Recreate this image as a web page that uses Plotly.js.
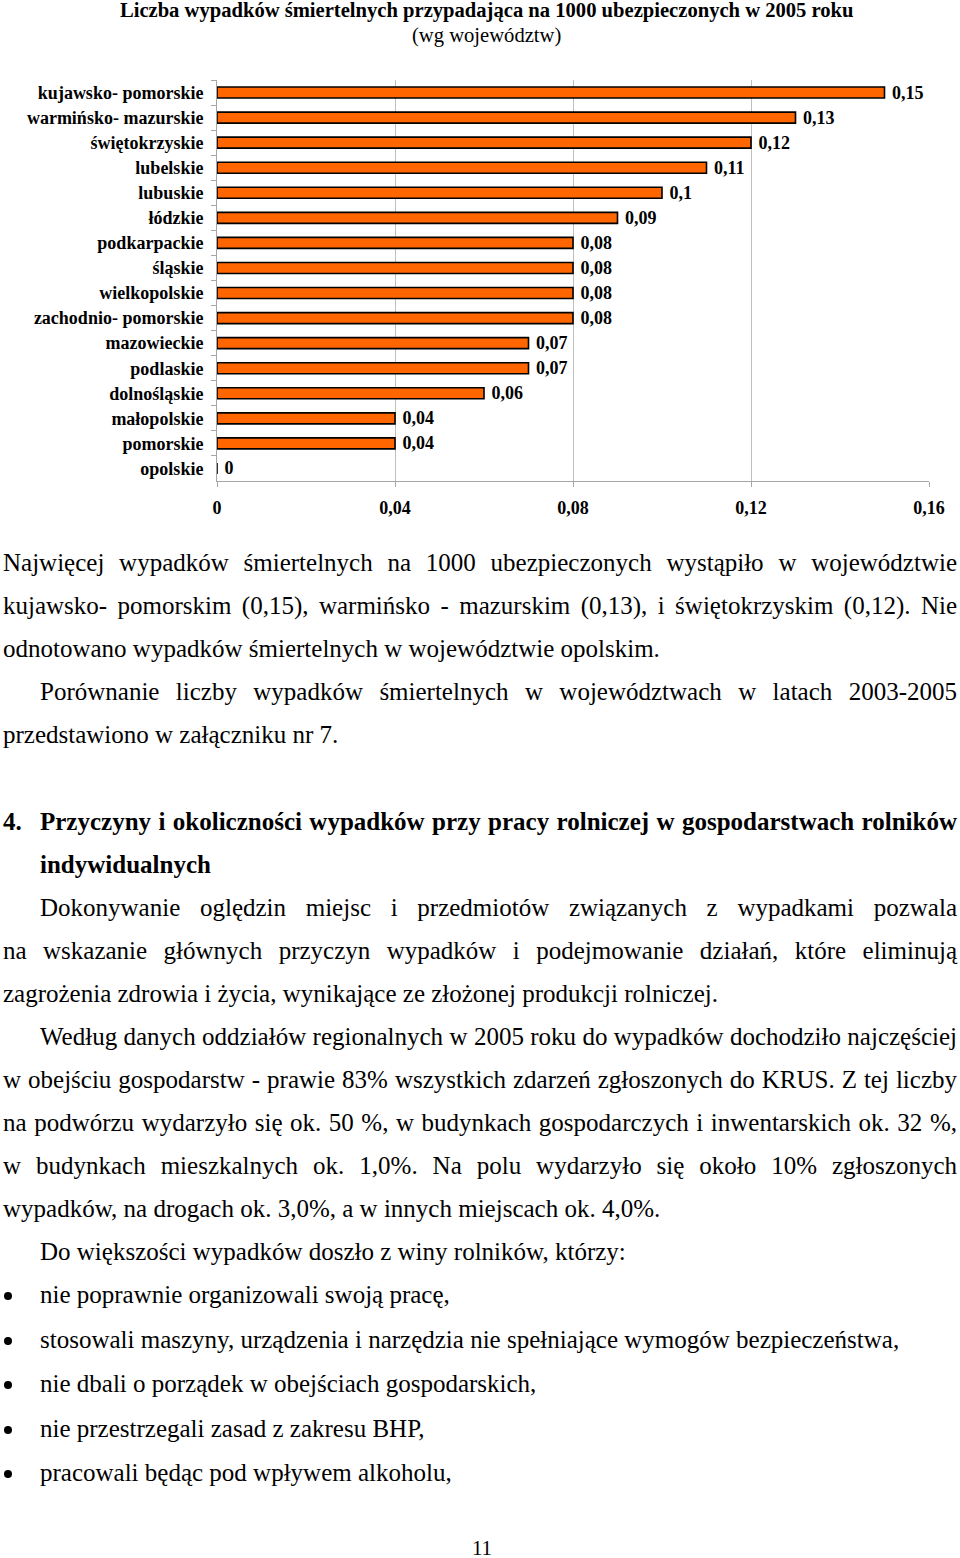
<!DOCTYPE html>
<html>
<head>
<meta charset="utf-8">
<script src="https://cdn.plot.ly/plotly-3.0.1.min.js"></script>
<style>
  body { margin: 0; background: #fff; width: 960px; height: 1558px; position: relative; overflow: hidden; }
  #plot { position: absolute; left: 0; top: 0; width: 960px; height: 540px; }
  #text { position: absolute; left: 3px; top: 541px; width: 954px;
          font-family: "Liberation Serif", "Times New Roman", serif; font-size: 25px; color: #000; }
  #text div { line-height: 43px; height: 43px; white-space: nowrap; }
  #text .j { text-align: justify; text-align-last: justify; }
  #text .ind { padding-left: 37px; }
  #text .h { font-weight: bold; }
  #text .bl { height: 44.5px; line-height: 44.5px; padding-left: 37px; position: relative; }
  #text .bl::before { content: ""; position: absolute; left: 1px; top: 19px; width: 8px; height: 8px;
                      border-radius: 50%; background: #000; }
  #page { position: absolute; left: 0; width: 960px; top: 1539px; height: 19px; line-height: 19px;
          text-align: center; font-family: "Liberation Serif", serif; font-size: 21px; padding-left: 2px; }
</style>
</head>
<body>
<div id="plot"></div>
<div id="text">
  <div class="j">Najwięcej wypadków śmiertelnych na 1000 ubezpieczonych wystąpiło w województwie</div>
  <div class="j">kujawsko- pomorskim (0,15), warmińsko - mazurskim (0,13), i świętokrzyskim (0,12). Nie</div>
  <div>odnotowano wypadków śmiertelnych w województwie opolskim.</div>
  <div class="j ind">Porównanie liczby wypadków śmiertelnych w województwach w latach 2003-2005</div>
  <div>przedstawiono w załączniku nr 7.</div>
  <div style="height:44px"></div>
  <div class="h j"><span style="display:inline-block;width:37px;text-align:left">4.</span>Przyczyny i okoliczności wypadków przy pracy rolniczej w gospodarstwach rolników</div>
  <div class="h ind">indywidualnych</div>
  <div class="j ind">Dokonywanie oględzin miejsc i przedmiotów związanych z wypadkami pozwala</div>
  <div class="j">na wskazanie głównych przyczyn wypadków i podejmowanie działań, które eliminują</div>
  <div>zagrożenia zdrowia i życia, wynikające ze złożonej produkcji rolniczej.</div>
  <div class="j ind">Według danych oddziałów regionalnych w 2005 roku do wypadków dochodziło najczęściej</div>
  <div class="j">w obejściu gospodarstw - prawie 83% wszystkich zdarzeń zgłoszonych do KRUS. Z tej liczby</div>
  <div class="j">na podwórzu wydarzyło się ok. 50 %, w budynkach gospodarczych i inwentarskich ok. 32 %,</div>
  <div class="j">w budynkach mieszkalnych ok. 1,0%. Na polu wydarzyło się około 10% zgłoszonych</div>
  <div>wypadków, na drogach ok. 3,0%, a w innych miejscach ok. 4,0%.</div>
  <div class="ind">Do większości wypadków doszło z winy rolników, którzy:</div>
  <div class="bl">nie poprawnie organizowali swoją pracę,</div>
  <div class="bl">stosowali maszyny, urządzenia i narzędzia nie spełniające wymogów bezpieczeństwa,</div>
  <div class="bl">nie dbali o porządek w obejściach gospodarskich,</div>
  <div class="bl">nie przestrzegali zasad z zakresu BHP,</div>
  <div class="bl">pracowali będąc pod wpływem alkoholu,</div>
</div>
<div id="page">11</div>
<script>
// województwa, od góry do dołu
var regions = ['kujawsko- pomorskie', 'warmińsko- mazurskie', 'świętokrzyskie', 'lubelskie',
  'lubuskie', 'łódzkie', 'podkarpackie', 'śląskie', 'wielkopolskie', 'zachodnio- pomorskie',
  'mazowieckie', 'podlaskie', 'dolnośląskie', 'małopolskie', 'pomorskie', 'opolskie'];
var rates = [0.15, 0.13, 0.12, 0.11, 0.10, 0.09, 0.08, 0.08, 0.08, 0.08, 0.07, 0.07, 0.06, 0.04, 0.04, 0];
var tickValues = [0, 0.04, 0.08, 0.12, 0.16];
var tickLabels = ['0', '0,04', '0,08', '0,12', '0,16'];

// etykiety z przecinkiem dziesiętnym (nbsp jako odstęp od słupka)
var labels = rates.map(function (v) { return '\u00a0' + String(v).replace('.', ','); });

var serif = 'Liberation Serif, Times New Roman, serif';

var trace = {
  type: 'bar',
  orientation: 'h',
  x: rates,
  y: regions,
  text: labels,
  textposition: 'outside',
  constraintext: 'none',
  cliponaxis: false,
  textfont: { family: serif, size: 18, color: '#000', weight: 'bold' },
  marker: { color: '#FF6600', line: { color: '#000', width: 1.6 } },
  hoverinfo: 'none'
};

var layout = {
  width: 960,
  height: 540,
  margin: { l: 217, r: 31, t: 80, b: 59 },
  paper_bgcolor: '#fff',
  plot_bgcolor: '#fff',
  showlegend: false,
  bargap: 0.56,
  title: {
    text: '<b>Liczba wypadków śmiertelnych przypadająca na 1000 ubezpieczonych w 2005 roku</b>',
    font: { family: serif, size: 20.6, color: '#000' },
    xref: 'container', x: 0.507, xanchor: 'center',
    yref: 'container', y: 0.9815, yanchor: 'middle'
  },
  annotations: [{
    text: '(wg województw)',
    font: { family: serif, size: 20.6, color: '#000' },
    xref: 'paper', x: 0.379, xanchor: 'center',
    yref: 'paper', y: 1.1122, yanchor: 'middle',
    showarrow: false
  }],
  xaxis: {
    range: [0, 0.16],
    tickvals: tickValues,
    ticktext: tickLabels,
    showgrid: true, gridcolor: '#bfbfbf', gridwidth: 1,
    zeroline: false,
    showline: true, linecolor: '#a6a6a6', linewidth: 1,
    ticks: 'outside', ticklen: 5, tickcolor: '#a6a6a6',
    ticklabelstandoff: 5,
    tickfont: { family: serif, size: 18, color: '#000', weight: 'bold' },
    fixedrange: true
  },
  yaxis: {
    autorange: 'reversed',
    type: 'category',
    showgrid: false,
    showline: true, linecolor: '#a6a6a6', linewidth: 1,
    ticks: 'outside', ticklen: 5, tickcolor: '#a6a6a6',
    tickson: 'boundaries',
    ticklabelstandoff: 9,
    tickfont: { family: serif, size: 18, color: '#000', weight: 'bold' },
    fixedrange: true
  }
};

Plotly.newPlot('plot', [trace], layout, { displayModeBar: false, staticPlot: true });
</script>
</body>
</html>
